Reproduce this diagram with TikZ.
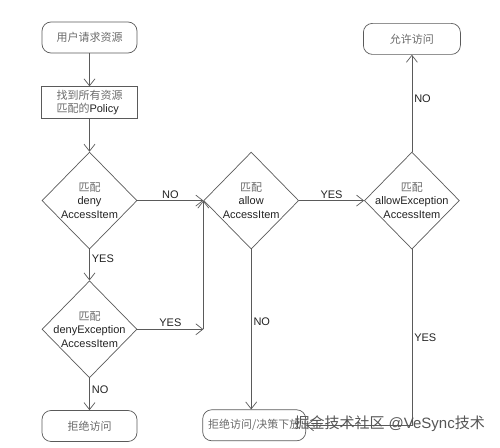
\documentclass[tikz,border=0pt]{standalone}
\usepackage{fontspec}
\setmainfont{Liberation Sans}
\newfontfamily\cjk{Noto Sans CJK SC}
\usetikzlibrary{positioning, arrows.meta, shapes.geometric}
\definecolor{linegray}{HTML}{5A5A5A}
\definecolor{textgray}{HTML}{222222}
\definecolor{cjkgray}{HTML}{6A6A6A}
\definecolor{wmgray}{HTML}{555555}

\begin{document}
\begin{tikzpicture}[
  x=1pt, y=1pt,
  font=\fontsize{11}{13.5}\selectfont,
  >={Straight Barb[length=7pt,width=11pt]},
  endbox/.style={draw=linegray, line width=0.7pt, rounded corners=9pt, minimum width=95pt, minimum height=31pt, align=center, text=cjkgray},
  procbox/.style={draw=linegray, line width=0.7pt, minimum width=96pt, minimum height=31pt, align=left, text=textgray},
  decide/.style={diamond, draw=linegray, line width=0.7pt, minimum width=95pt, minimum height=97pt, inner sep=0pt},
  intext/.style={align=center, text=textgray},
  arr/.style={->, draw=linegray, line width=0.7pt},
  lbl/.style={text=textgray, inner sep=2pt}
]
\useasboundingbox (0,0) rectangle (500,-447);
\node[endbox] (start) at (89.5,-37.5) {\cjk 用户请求资源};
\node[procbox, below=33pt of start] (policy) {{\color{cjkgray}\cjk 找到所有资源}\\{\color{cjkgray}\cjk 匹配的}Policy};
\node[decide, below=33pt of policy, label={[intext]center:{\color{cjkgray}\cjk 匹配}\\deny\\AccessItem}] (deny) {};
\node[decide, below=31pt of deny, label={[intext]center:{\color{cjkgray}\cjk 匹配}\\denyException\\AccessItem}] (denyex) {};
\node[endbox, below=32pt of denyex] (reject) {\cjk 拒绝访问};
\node[decide, right=66pt of deny, label={[intext]center:{\color{cjkgray}\cjk 匹配}\\allow\\AccessItem}] (allow) {};
\node[decide, right=65pt of allow, label={[intext]center:{\color{cjkgray}\cjk 匹配}\\allowException\\AccessItem}] (allowex) {};
\node[endbox, minimum width=97pt, above=97pt of allowex] (permit) {\cjk 允许访问};
\node[endbox, minimum width=103pt, below=160pt of allow, xshift=3pt] (rejdel) {\cjk 拒绝访问/决策下放};
\coordinate (jn) at (allow.west |- denyex.east);

\draw[arr] (start) -- (policy);
\draw[arr] (policy) -- (deny);
\draw[arr] (deny.south) -- node[lbl, right, pos=0.3] {YES} (denyex.north);
\draw[arr] (deny.east) -- node[lbl, above] {NO} (allow.west);
\draw[arr] (denyex.east) -- node[lbl, above] {YES} (jn);
\draw[arr] (jn) -- (allow.west);
\draw[arr] (denyex.south) -- node[lbl, right, pos=0.35] {NO} (reject.north);
\draw[arr] (allow.south) -- node[lbl, right, pos=0.45] {NO} (allow.south |- rejdel.north);
\draw[arr] (allow.east) -- node[lbl, above] {YES} (allowex.west);
\draw[arr] (allowex.north) -- node[lbl, right, pos=0.55] {NO} (permit.south);
\draw[arr] (allowex.south) |- node[lbl, right, pos=0.25] {YES} (rejdel.east);

\node[anchor=west, text=wmgray, font=\fontsize{15}{15}\selectfont] (wm) at (291,-424) {{\cjk 掘金技术社区} @VeSync{\cjk 技术}};
\end{tikzpicture}
\end{document}
